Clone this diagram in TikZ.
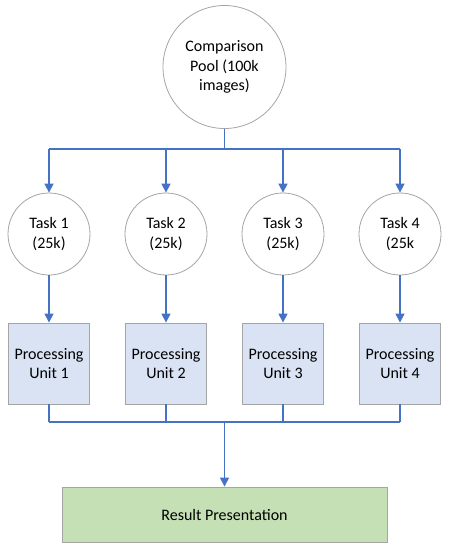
\documentclass[tikz,border=0pt]{standalone}
\usepackage{fontspec}
\setmainfont{Carlito}
\usetikzlibrary{arrows.meta}
\definecolor{lineblue}{HTML}{4472C4}
\definecolor{edgegray}{HTML}{A5A5A5}
\definecolor{boxblue}{HTML}{DAE3F3}
\definecolor{boxgreen}{HTML}{C5E0B4}
\begin{document}
\begin{tikzpicture}[x=1pt,y=-1pt,
  every node/.style={font=\fontsize{16}{19.5}\selectfont, align=center, inner sep=0pt},
  circ/.style={circle, draw=edgegray, line width=0.8pt, fill=white, minimum size=#1},
  unitbox/.style={rectangle, draw=edgegray, line width=0.9pt, fill=boxblue, minimum width=81pt, minimum height=81pt},
  resbox/.style={rectangle, draw=edgegray, line width=0.9pt, fill=boxgreen, minimum width=325pt, minimum height=55pt},
  conn/.style={draw=lineblue, line width=1.5pt},
  arr/.style={conn, -{Triangle[length=9pt,width=9pt]}}
]
\useasboundingbox (0,0) rectangle (450,550);
\node[circ=123pt] (pool) at (224.5,67) {Comparison\\Pool (100k\\images)};
\foreach \i/\x in {1/49,2/166,3/283,4/400}{
  \node[circ=82pt] (t\i) at (\x,234) {Task \i\\(25k\ifnum\i<4)\fi};
  \node[unitbox] (u\i) at (\x,363.5) {Processing\\Unit \i};
  \coordinate (bt\i) at (\x,149);
  \coordinate (bb\i) at (\x,422);
}
\node[resbox] (res) at (224.5,514.5) {Result Presentation};
\coordinate (top) at (224.5,149);
\coordinate (bot) at (224.5,422);
\draw[conn] (pool.south) -- (top);
\draw[conn] (bt1) -- (bt4);
\draw[conn] (bb1) -- (bb4);
\foreach \i in {1,2,3,4}{
  \draw[arr] (bt\i) -- (t\i.north);
  \draw[arr] (t\i.south) -- (u\i.north);
  \draw[conn] (u\i.south) -- (bb\i);
}
\draw[arr] (bot) -- (res.north);
\end{tikzpicture}
\end{document}
